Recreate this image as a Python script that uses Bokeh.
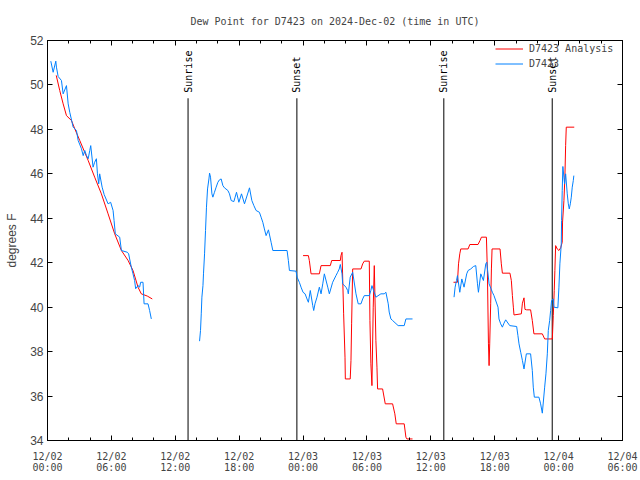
import numpy as np
from bokeh.plotting import figure
from bokeh.models import (FixedTicker, LinearAxis, Range1d, Legend, LegendItem,
                          ColumnDataSource)
from bokeh.core.properties import value
from bokeh.embed import file_html
from bokeh.resources import INLINE

# ---------------- data (hours since 2024-12-02 00:00 UTC, degrees F) -------------
obs_h1 = [0.31, 0.53, 0.78, 0.84, 1.0, 1.31, 1.47, 1.78, 1.94, 2.09, 2.41, 2.72, 2.88,
          3.19, 3.35, 3.5, 3.66, 3.82, 3.97, 4.06, 4.28, 4.43, 4.59, 4.69, 4.81, 4.9,
          5.13, 5.32, 5.69, 5.93, 6.16, 6.25, 6.37, 6.78, 6.94, 7.5, 7.62, 7.87, 8.03,
          8.18, 8.28, 8.5, 8.65, 8.75, 8.97, 9.07, 9.44, 9.59, 9.75]
obs_f1 = [51.07, 50.57, 51.07, 50.8, 50.38, 50.2, 49.6, 49.97, 49.15, 48.77, 48.1, 47.95,
          47.5, 47.13, 46.82, 47.05, 46.82, 46.68, 47.05, 47.27, 46.3, 46.52, 46.68, 46.0,
          45.55, 46.0, 45.4, 45.07, 44.65, 44.72, 44.35, 43.9, 43.3, 43.15, 42.55, 42.47,
          42.4, 41.8, 41.5, 41.2, 40.83, 40.97, 40.9, 41.12, 41.12, 40.15, 40.15, 39.85,
          39.47]

obs_h2 = [14.28, 14.37, 14.44, 14.5, 14.6, 14.65, 14.75, 14.84, 14.93, 15.03,
          15.16, 15.22, 15.31, 15.44, 15.53, 15.68, 15.84, 16.0, 16.15, 16.31,
          16.47, 16.62, 16.94, 17.09, 17.25, 17.5, 17.62, 17.75, 17.97, 18.22,
          18.5, 18.97, 19.19, 19.38, 19.59, 19.9, 20.06, 20.22, 20.37, 20.53,
          20.75, 21.0, 21.16, 22.5, 22.62, 22.72, 23.34, 23.44, 23.65, 23.81,
          24.0, 24.19, 24.37, 24.5, 24.68, 24.91, 25.0, 25.12, 25.31, 25.53,
          25.69, 25.85, 26.0, 26.32, 26.47, 26.78, 27.09, 27.25, 27.4, 27.5,
          27.66, 27.72, 28.03, 28.19, 28.25, 28.43, 28.66, 28.97, 29.18, 29.44,
          29.6, 29.75, 30.22, 30.37, 30.47, 30.84, 31.31, 31.62, 31.78, 32.0,
          32.09, 32.25, 32.41, 32.93, 33.5, 33.66, 34.28]
obs_f2 = [38.47, 38.95, 39.7, 40.45, 40.97, 41.5, 42.4, 43.45, 44.5, 45.32,
          45.77, 46.03, 45.85, 45.1, 44.95, 45.17, 45.4, 45.62, 45.73, 45.77,
          45.47, 45.37, 45.25, 45.1, 44.8, 44.75, 44.95, 45.17, 44.72, 45.1,
          44.65, 45.37, 44.8, 44.57, 44.35, 44.27, 44.05, 43.82, 43.52, 43.22,
          43.48, 42.92, 42.55, 42.55, 42.1, 41.65, 41.62, 41.35, 41.12, 40.9,
          40.67, 40.6, 40.37, 40.22, 40.75, 40.07, 39.85, 40.15, 40.45, 40.9,
          40.6, 41.05, 41.5, 40.9, 40.6, 41.12, 41.42, 41.57, 41.72, 41.92,
          41.5, 41.05, 40.9, 40.75, 40.6, 41.35, 41.57, 40.6, 40.15, 40.15,
          40.37, 40.52, 40.52, 40.75, 40.97, 40.45, 40.6, 40.6, 40.67, 40.15,
          39.78, 39.47, 39.4, 39.17, 39.17, 39.47, 39.47]

obs_h3 = [38.18, 38.28, 38.41, 38.5, 38.72, 38.91, 39.12, 39.37, 39.5, 39.75,
          40.0, 40.22, 40.38, 40.47, 40.69, 40.94, 41.16, 41.25, 41.47, 41.78,
          41.93, 42.31, 42.4, 42.56, 42.72, 42.87, 43.03, 43.41, 44.06, 44.18,
          44.28, 44.44, 44.6, 44.75, 44.97, 45.37, 45.53, 45.62, 45.72, 46.15,
          46.31, 46.47, 46.69, 46.81, 46.94, 47.03, 47.16, 47.25, 47.34, 47.5,
          47.56, 47.93, 48.03, 48.12, 48.25, 48.28, 48.34, 48.4, 48.56, 48.66,
          48.81, 48.91, 49.0, 49.1, 49.19, 49.28, 49.38, 49.43]
obs_f3 = [40.45, 40.9, 41.2, 41.42, 40.67, 41.27, 40.9, 41.5, 41.65, 41.72,
          41.83, 41.87, 41.05, 40.67, 41.5, 41.2, 41.95, 42.02, 41.05, 40.67,
          40.52, 40.0, 39.47, 39.25, 39.1, 39.28, 39.43, 39.17, 39.13, 38.72,
          38.35, 37.97, 37.6, 37.22, 37.9, 37.9, 37.15, 36.4, 35.95, 35.95,
          35.65, 35.23, 36.4, 37.0, 37.9, 38.95, 39.4, 39.85, 40.3, 40.37,
          40.0, 39.97, 40.9, 41.95, 42.85, 43.9, 45.25, 46.33, 45.55, 46.0,
          45.1, 44.65, 44.42, 44.65, 44.95, 45.4, 45.7, 45.92]

an_h1 = [0.82, 1.15, 1.47, 1.78, 2.25, 2.56, 3.03, 3.82, 4.43, 5.06, 5.69, 6.31, 6.94,
         7.57, 8.03, 8.5, 8.81, 9.37, 9.84]
an_f1 = [50.43, 49.75, 49.15, 48.62, 48.4, 48.03, 47.5, 46.6, 45.85, 45.1, 44.2, 43.3,
         42.55, 42.1, 41.65, 40.9, 40.6, 40.5, 40.37]

an_h2 = [24.0, 24.5, 24.59, 24.75, 25.53, 25.69, 26.56, 26.69, 27.5, 27.56,
         27.66, 27.81, 27.94, 27.97, 28.43, 28.5, 28.56, 28.66, 29.44, 29.6,
         29.75, 30.22, 30.28, 30.37, 30.47, 30.59, 30.69, 30.84, 30.94, 31.0,
         31.47, 31.72, 32.41, 32.62, 32.75, 33.5, 33.66, 33.75, 34.28]
an_f2 = [42.32, 42.32, 42.1, 41.5, 41.5, 41.87, 41.87, 42.1, 42.1, 42.32,
         42.47, 39.7, 37.75, 36.77, 36.77, 37.6, 39.25, 41.72, 41.72, 41.95,
         42.07, 42.07, 39.4, 37.45, 36.47, 40.0, 41.87, 38.5, 37.3, 36.32,
         36.32, 35.65, 35.65, 35.2, 34.75, 34.75, 34.15, 34.07, 34.07]

an_h3 = [38.13, 38.5, 38.6, 38.72, 38.81, 39.5, 39.66, 40.43, 40.62, 40.75,
         41.22, 41.31, 41.41, 41.47, 41.53, 41.62, 41.69, 41.75, 42.5, 42.62,
         42.72, 43.43, 43.56, 43.66, 43.75, 43.81, 44.5, 44.6, 44.75, 44.84,
         45.0, 45.37, 45.53, 45.68, 46.47, 46.69, 47.41, 47.5, 47.59, 47.65,
         47.72, 47.87, 48.03, 48.19, 48.34, 48.37, 48.5, 48.59, 48.66, 48.72, 49.47]
an_f3 = [41.12, 41.12, 41.95, 42.4, 42.62, 42.62, 42.82, 42.82, 43.0, 43.15,
         43.15, 41.65, 38.35, 37.37, 38.35, 40.15, 41.72, 42.62, 42.62, 41.95,
         41.53, 41.53, 41.2, 40.52, 40.0, 39.65, 39.7, 40.18, 40.42, 39.9,
         39.88, 39.88, 39.4, 38.8, 38.8, 38.57, 38.57, 39.62, 40.75, 41.65,
         42.77, 42.62, 42.55, 42.67, 42.92, 43.83, 44.8, 45.85, 47.27, 48.1, 48.1]

sun_hours = [13.2, 23.42, 37.22, 47.4]
sun_labels = ["Sunrise", "Sunset", "Sunrise", "Sunset"]

tick_hours = [0, 6, 12, 18, 24, 30, 36, 42, 48, 54]
tick_dates = ["12/02", "12/02", "12/02", "12/02", "12/03", "12/03", "12/03", "12/03",
              "12/04", "12/04"]
tick_times = ["00:00", "06:00", "12:00", "18:00", "00:00", "06:00", "12:00", "18:00",
              "00:00", "06:00"]
y_ticks = [34, 36, 38, 40, 42, 44, 46, 48, 50, 52]

title_text = "Dew Point for D7423 on 2024-Dec-02 (time in UTC)"
obs_name = "D7423"
an_name = "D7423 Analysis"


def join(*segs):
    out = []
    for i, s in enumerate(segs):
        if i:
            out.append(np.nan)
        out.extend(s)
    return out


MONO = "DejaVu Sans Mono"
SANS = "Liberation Sans"
RED = "#ff0000"
BLUE = "#0080ff"

p = figure(width=640, height=480, x_range=Range1d(0, 54), y_range=Range1d(34, 52),
           output_backend="svg", toolbar_location=None, title=title_text,
           min_border_left=47, min_border_right=18, min_border_top=40,
           min_border_bottom=40)
p.xgrid.visible = False
p.ygrid.visible = False
p.outline_line_color = "black"
p.outline_line_alpha = 1.0
p.outline_line_width = 1
p.background_fill_color = "white"
p.border_fill_color = "white"

p.title.text_font = MONO
p.title.text_font_size = "10px"
p.title.text_font_style = "normal"
p.title.align = "center"
p.title.standoff = 27

xticker = FixedTicker(ticks=tick_hours, minor_ticks=list(range(0, 55, 2)))
yticker = FixedTicker(ticks=y_ticks, minor_ticks=[])

xa = p.xaxis[0]
xa.ticker = xticker
xa.major_label_overrides = {h: f"{d}\n{t}" for h, d, t in zip(tick_hours, tick_dates, tick_times)}
xa.major_label_text_font = MONO
xa.major_label_text_font_size = "10px"
xa.major_label_text_line_height = 1.0
xa.major_label_standoff = 10
xa.major_tick_in = 5
xa.major_tick_out = 0
xa.minor_tick_in = 3
xa.minor_tick_out = 0
xa.axis_line_color = "black"

ya = p.yaxis[0]
ya.ticker = yticker
ya.major_label_text_font = SANS
ya.major_label_text_font_size = "12px"
ya.major_label_standoff = 4
ya.major_tick_in = 5
ya.major_tick_out = 0
ya.minor_tick_in = 0
ya.minor_tick_out = 0
ya.axis_label = "degrees F"
ya.axis_label_text_font = SANS
ya.axis_label_text_font_size = "12px"
ya.axis_label_text_font_style = "normal"
ya.axis_label_standoff = 8

top = LinearAxis(ticker=xticker, major_label_text_font_size="0px", major_label_standoff=0,
                 major_label_overrides={h: "" for h in tick_hours},
                 major_tick_in=5, major_tick_out=0, minor_tick_in=3, minor_tick_out=0,
                 axis_line_color="black")
p.add_layout(top, "above")
right = LinearAxis(ticker=yticker, major_label_text_font_size="0px", major_label_standoff=0,
                   major_label_overrides={v: "" for v in y_ticks},
                   major_tick_in=5, major_tick_out=0, minor_tick_in=0, minor_tick_out=0,
                   axis_line_color="black")
p.add_layout(right, "right")

# sunrise / sunset markers
sun_src = ColumnDataSource(dict(x=sun_hours, label=sun_labels))
p.segment(x0="x", y0=34, x1="x", y1=49.4, source=sun_src, line_color="black", line_width=1)
p.text(x="x", y=49.65, text="label", source=sun_src, angle=np.pi / 2,
       text_font=value(MONO), text_font_size="10px", text_align="left",
       text_baseline="middle", text_color="black")

# series
r_an = p.line(join(an_h1, an_h2, an_h3), join(an_f1, an_f2, an_f3),
              line_color=RED, line_width=1)
r_obs = p.line(join(obs_h1, obs_h2, obs_h3), join(obs_f1, obs_f2, obs_f3),
               line_color=BLUE, line_width=1)

legend = Legend(items=[LegendItem(label=an_name, renderers=[r_an]),
                       LegendItem(label=obs_name, renderers=[r_obs])],
                location=(448, 369), label_text_font=MONO, label_text_font_size="10px",
                label_height=15, glyph_height=15, glyph_width=28, spacing=0,
                padding=0, margin=0, label_standoff=6,
                background_fill_alpha=0, border_line_alpha=0)
p.add_layout(legend)

open("out.html", "w").write(file_html(p, INLINE))
